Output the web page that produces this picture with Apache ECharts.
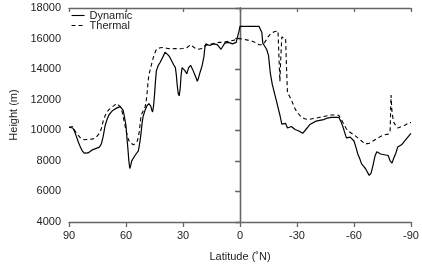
<!DOCTYPE html>
<html><head><meta charset="utf-8">
<script src="https://cdn.jsdelivr.net/npm/echarts@6/dist/echarts.min.js"></script>
<style>html,body{margin:0;padding:0;background:#fff}#c{width:422px;height:267px}</style>
</head><body><div id="c"></div>
<script>
const dynLat = [90,89,88,87,86,85,84,83,82,81,80,79,78,77,76,75,74,73,72,71,70,69,68,67,66,65,64,63,62,61.5,61,60,59.5,59,58.5,58,57.5,57,56,55,54,53.5,53,52.5,52,51.5,51,50,49,48,47,46.5,46,45.5,45,44.5,44,43,42,41,40,39.5,39,38,37,36,35,34,33.5,33,32.5,32,31.5,31,30.5,30,29,28,27.5,27,26,25,24,23,22.5,22,21,20,19,18.5,18,17,16,15,14,13,12,11,10,9.5,9,8,7,6,5,4,3,2,1,0.5,0,-5,-10,-11,-11.5,-12,-13,-14,-15,-16,-17,-18,-19,-20,-21,-22,-23,-24,-25,-26,-27,-28,-29,-30,-31,-32,-33,-34,-35,-36,-37,-38,-40,-42,-44,-46,-48,-50,-52,-53,-54,-55,-56,-57,-58,-59,-60,-61,-62,-63,-64,-65,-66,-67,-68,-68.5,-69,-70,-71,-72,-73,-74,-75,-76,-77,-78,-79,-80,-81,-82,-83,-84,-85,-86,-87,-88,-89,-90];
const dynHeight = [10200,10250,10150,9900,9550,9200,8900,8650,8500,8460,8520,8620,8700,8780,8800,8850,8900,9100,9600,10300,10700,11000,11150,11300,11400,11450,11450,11550,11500,11300,11000,10300,9500,8800,8000,7500,7700,8000,8200,8400,8500,8650,9000,9400,9900,10500,10900,11300,11600,11750,11600,11350,11200,11600,12300,13200,13900,14250,14450,14700,14950,15100,15050,14950,14800,14550,14300,14100,13600,12900,12400,12250,12700,13600,14100,14050,13900,13700,13900,14100,14250,14000,13700,13400,13200,13350,13800,14200,14800,15400,15650,15600,15550,15600,15650,15700,15600,15450,15300,15250,15500,15700,15800,15750,15700,15650,15700,15750,15800,16500,16800,16800,16800,16800,16400,15700,15500,15300,14900,13700,13000,12500,12000,11500,11000,10400,10500,10450,10150,10200,10250,10150,10050,10000,9950,9850,9800,9900,10100,10250,10400,10500,10600,10650,10700,10800,10850,10850,10850,10600,10300,9900,9500,9600,9550,9450,9300,8900,8450,8150,7800,7650,7500,7400,7050,7000,7200,7700,8300,8600,8550,8450,8450,8400,8400,8350,8000,7850,8200,8500,8900,9000,9050,9200,9350,9500,9650,9800];
const thermLat = [90,89,88,87,86,85,84,83,82,81,80,79,78,77,76,75,74,73,72,71,70,69,68,67,66,65,64,63,62,61,60,59,58,57,56,55,54,53,52.5,52,51,50,49.5,49,48.5,48,47,46,45,44,43,42,41,40,38,36,34,32,30,28,27,26,25,24,23,22,21,20,19,18,17,15,13,11,9,7,5,3,1,0,-2,-4,-6,-8,-10,-11,-12,-13,-14,-15,-16,-17,-18,-19,-20,-20.5,-21,-21.5,-22,-23,-24,-24.5,-25,-26,-27,-28,-29,-30,-31,-32,-34,-36,-38,-40,-42,-44,-46,-48,-50,-52,-53,-54,-55,-56,-57,-58,-60,-62,-64,-66,-67,-68,-70,-72,-74,-76,-78,-79,-79.5,-80,-80.5,-81,-82,-83,-84,-85,-86,-87,-88,-89,-90];
const thermHeight = [10200,10300,10250,10000,9800,9650,9500,9420,9380,9380,9400,9400,9420,9450,9500,9600,9800,10100,10600,10950,11200,11350,11450,11550,11650,11750,11650,11550,11200,10600,10000,9500,9200,9100,9050,9050,9300,9900,10500,11000,11250,11500,11800,12300,13000,13600,14100,14600,15000,15300,15350,15400,15450,15420,15350,15330,15350,15330,15350,15400,15500,15600,15550,15400,15350,15300,15280,15350,15500,15600,15600,15650,15700,15750,15750,15800,15850,15900,16000,16000,15950,15900,15850,15750,15600,15550,15600,15750,15950,16150,16300,16400,16450,16500,16500,14800,13200,14800,16100,16050,16000,14000,12400,12250,12000,11700,11400,11200,11050,10900,10750,10700,10750,10800,10850,10900,10950,11000,11000,10980,10850,10550,10300,10100,9950,9850,9700,9500,9300,9100,9050,9150,9300,9450,9600,9700,9750,9900,12300,11200,10800,10500,10300,10150,10200,10250,10300,10350,10450,10500,10500];
const xTicks = [90,60,30,0,-30,-60,-90];
const yTicks = [4000,6000,8000,10000,12000,14000,16000,18000];

const pair = (a,b) => a.map((v,i)=>[v,b[i]]);
const FONT = 'Liberation Sans';
const axisCol = '#666';
const chart = echarts.init(document.getElementById('c'), null, {renderer:'canvas'});
const baseX = {type:'value', min:-90, max:90, interval:30, inverse:true,
  axisLine:{lineStyle:{color:axisCol, width:1.3}}, splitLine:{show:false}};
const baseY = {type:'value', min:4000, max:18000, interval:2000,
  axisLine:{lineStyle:{color:axisCol, width:1.3}}, splitLine:{show:false}};
chart.setOption({
  animation:false,
  textStyle:{fontFamily:FONT},
  grid:{left:69, right:11, top:8, bottom:42, containLabel:false},
  legend:{left:71, top:10, padding:0, orient:'vertical', itemWidth:13, itemHeight:9, itemGap:-1,
    itemStyle:{opacity:0}, lineStyle:{width:1.1},
    textStyle:{fontFamily:FONT, fontSize:11, color:'#222'},
    data:['Dynamic','Thermal']},
  xAxis:[
    Object.assign({}, baseX, {position:'bottom', name:'Latitude (˚N)', nameLocation:'middle', nameGap:29,
      nameTextStyle:{fontFamily:FONT, fontSize:11, color:'#222'},
      axisTick:{inside:false, length:5, lineStyle:{color:axisCol, width:1.3}},
      axisLabel:{fontFamily:FONT, fontSize:11, color:'#222', margin:8,
        formatter:v => xTicks.includes(v) ? String(v) : ''}}),
    Object.assign({}, baseX, {position:'top',
      axisTick:{inside:true, length:4, lineStyle:{color:axisCol, width:1.3}},
      axisLabel:{show:false}})
  ],
  yAxis:[
    Object.assign({}, baseY, {position:'left', name:'Height (m)', nameLocation:'middle', nameGap:49,
      nameTextStyle:{fontFamily:FONT, fontSize:11, color:'#222'},
      axisTick:{inside:false, length:5, lineStyle:{color:axisCol, width:1.3}},
      axisLabel:{fontFamily:FONT, fontSize:11, color:'#222', margin:8,
        formatter:v => yTicks.includes(v) ? String(v) : ''}}),
    Object.assign({}, baseY, {position:'right',
      axisTick:{inside:true, length:4, lineStyle:{color:axisCol, width:1.3}},
      axisLabel:{show:false}})
  ],
  series:[
    {name:'Dynamic', type:'line', symbol:'none', data:pair(dynLat, dynHeight),
      lineStyle:{color:'#000', width:1.2, type:'solid'}, itemStyle:{color:'#000'}},
    {name:'Thermal', type:'line', symbol:'none', data:pair(thermLat, thermHeight),
      lineStyle:{color:'#000', width:1.1, type:[4,3]}, itemStyle:{color:'#000'}}
  ]
});
</script></body></html>
